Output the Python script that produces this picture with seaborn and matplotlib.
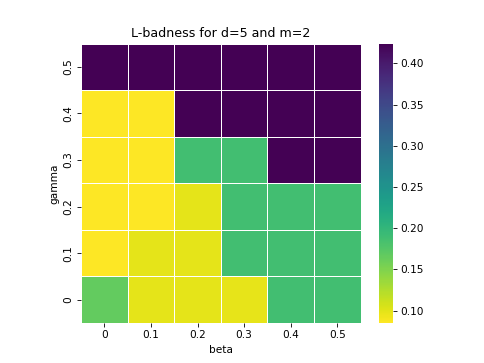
import numpy as np
import pandas as pd
import matplotlib
matplotlib.use("Agg")
import matplotlib.pyplot as plt
import seaborn as sns

# axis values
beta = ["0", "0.1", "0.2", "0.3", "0.4", "0.5"]
gamma = ["0", "0.1", "0.2", "0.3", "0.4", "0.5"]

# L-badness per gamma row (gamma = 0 first), columns follow beta
row_g0 = [0.166, 0.099, 0.099, 0.097, 0.187, 0.187]
row_g1 = [0.086, 0.099, 0.099, 0.187, 0.187, 0.187]
row_g2 = [0.085, 0.085, 0.099, 0.187, 0.187, 0.187]
row_g3 = [0.085, 0.085, 0.187, 0.187, 0.424, 0.424]
row_g4 = [0.085, 0.085, 0.424, 0.424, 0.424, 0.424]
row_g5 = [0.424, 0.424, 0.424, 0.424, 0.424, 0.424]

df = pd.DataFrame([row_g0, row_g1, row_g2, row_g3, row_g4, row_g5],
                  index=gamma, columns=beta)

fig = plt.figure(figsize=(6.4, 4.8), dpi=75.625)
ax = sns.heatmap(df, cmap="viridis_r", linewidths=0.5, linecolor="white",
                 square=True)
ax.invert_yaxis()
ax.set_title("L-badness for d=5 and m=2")
ax.set_xlabel("beta")
ax.set_ylabel("gamma")

plt.savefig("out.png", dpi=75.625)
